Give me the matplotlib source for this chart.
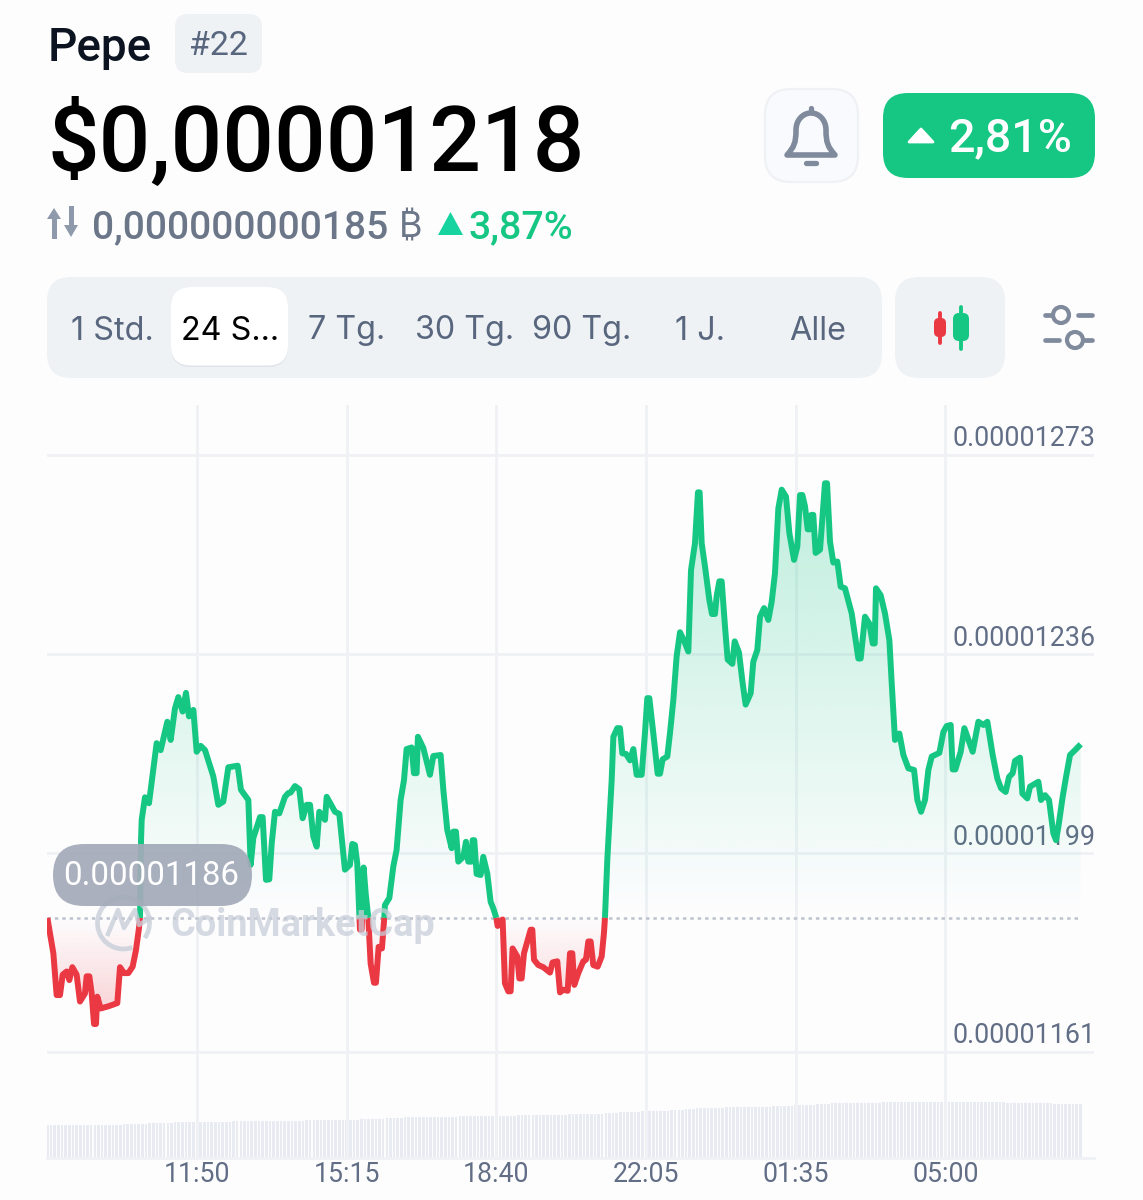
import numpy as np
import matplotlib
matplotlib.use('Agg')
import matplotlib.pyplot as plt
from matplotlib.patches import FancyBboxPatch, Polygon, PathPatch, Circle, Arc
from matplotlib.path import Path
from matplotlib.transforms import ScaledTranslation

# minutes since the start of the 24h window (08:25)
minutes = [0, 8.2, 12.7, 17.3, 21, 26.4, 30.1, 34.2, 40.1, 44.7, 51.5, 53.8, 57.5, 60.7, 63.9, 66.6, 68.4, 73, 83.5, 95.8,
           99.5, 105, 110.9, 116.8, 121.4, 125.5, 126.9, 128.3, 129.2, 133.7, 139.2, 149.7, 155.2, 164.3, 168.9, 174.8, 179.4, 185.3, 189.9, 194,
           200, 204.5, 210, 216, 227.3, 234.2, 241, 247.9, 260.7, 265.2, 275.3, 278.5, 282.1, 291.3, 294.9, 299.5, 304, 307.3, 311.8, 317.7,
           325.5, 330.1, 333.3, 339.2, 345.1, 349.7, 355.2, 359.8, 364.3, 368.9, 372.5, 380.3, 382.6, 394, 399.9, 407.6, 414.5, 417.7, 421.3, 424.5,
           427.5, 428.2, 430.5, 431, 433.2, 436, 439.6, 442.8, 447.4, 450.1, 453.8, 458.3, 461.5, 462.4, 468.4, 473.9, 478.4, 483.9, 488.5, 492.1,
           499, 502.2, 505.8, 507.6, 515, 524.1, 528.7, 538.7, 542.4, 547.8, 553.8, 556.1, 559.7, 562.9, 569.8, 573.4, 576.6, 581.2, 582.5, 584.8,
           588, 593.5, 597.1, 602.6, 607.2, 610.8, 615, 616.8, 623.6, 626.8, 631.4, 634.6, 637.3, 643.7, 646.5, 649.7, 652.9, 662, 664.3, 666.6,
           672.5, 679.3, 688.5, 692.1, 698.5, 702.2, 706.7, 712.7, 715.9, 719.1, 721.8, 727.3, 734.1, 737.8, 741, 744.2, 747.8, 753.8, 759.3, 762.4,
           763.8, 767, 773, 775.3, 780.7, 784.4, 787.6, 792.6, 798.1, 802.7, 807.2, 814.1, 818.6, 821.8, 824.6, 830, 836, 839.2, 842.8, 849.2,
           852.9, 857.5, 862, 866.6, 872.5, 878, 881.7, 887.1, 891.2, 893.5, 896.3, 900.8, 906.8, 910.4, 914.5, 916.8, 920.5, 923.7, 928.2, 931.9,
           938.3, 941.5, 947.4, 952.4, 956.5, 963.4, 967, 972.5, 976.2, 981.7, 987.6, 992.2, 996.7, 1001.3, 1005.9, 1011.8, 1016.4, 1022.8, 1027.3, 1031,
           1034.2, 1037.8, 1041.5, 1044.7, 1046.5, 1049.2, 1052.4, 1058.4, 1065.2, 1068, 1072.1, 1076.6, 1082.1, 1086.7, 1092.6, 1101.8, 1110.9, 1114.1, 1120, 1126,
           1130.6, 1133.3, 1135.1, 1141.5, 1147.4, 1153.4, 1156.6, 1161.1, 1167.1, 1172.6, 1179.4, 1187.2, 1191.7, 1196.8, 1202.2, 1206.8, 1211.4, 1221.9, 1227.4, 1231.9,
           1237.4, 1240.1, 1243.8, 1251.1, 1256.1, 1267.5, 1275.3, 1282.2, 1287.6, 1294.9, 1301.3, 1306.3, 1312.7, 1317.3, 1322.3, 1325.5, 1332.4, 1335.6, 1342.4, 1346.1,
           1357.5, 1361.1, 1366.6, 1372.1, 1378, 1381.7, 1384.9, 1390.8, 1395.4, 1400.9, 1407.7, 1415.5]

# price in 1e-8 USD
prices = [1186.8, 1180.2, 1172.4, 1172.4, 1176.2, 1176.8, 1175.2, 1177.6, 1176.2, 1171.2, 1172.7, 1175.9, 1175.9, 1172.7, 1167.0, 1167.0, 1172.1, 1169.9, 1170.3, 1170.9,
          1177.6, 1176.5, 1176.5, 1177.7, 1180.8, 1184.9, 1186.8, 1201.3, 1205.1, 1209.3, 1208.2, 1219.4, 1218.1, 1223.4, 1220, 1225.9, 1228, 1225.3, 1228.8, 1224.4,
          1225.6, 1217.8, 1218.9, 1218.1, 1213.2, 1207.9, 1208.5, 1214.9, 1215.2, 1210.7, 1208.8, 1196.7, 1201.7, 1205.6, 1205.6, 1193.9, 1194, 1200.7, 1206.6, 1206.3,
          1209.4, 1210.1, 1210.2, 1211.4, 1210.8, 1205.4, 1207.9, 1207.9, 1202, 1200.1, 1206.6, 1205.1, 1209.4, 1206.6, 1206.2, 1195.8, 1196.7, 1200.6, 1200.4, 1197,
          1186.8, 1184.6, 1184.6, 1186.8, 1196.2, 1191.4, 1186.8, 1178.3, 1174.7, 1174.7, 1181.4, 1181.1, 1186.8, 1189.2, 1190.5, 1196.4, 1199.5, 1208.8, 1212.5, 1218.3,
          1218.6, 1213.8, 1213.8, 1220.6, 1218.5, 1213.5, 1217, 1217.2, 1210.7, 1203.2, 1199.8, 1202.9, 1202.9, 1197.3, 1198.2, 1201, 1197.3, 1197.3, 1201.3, 1201.3,
          1195, 1194.8, 1198.2, 1195.1, 1189.8, 1188.6, 1186.8, 1185.3, 1186.5, 1174.6, 1173.1, 1173.1, 1181.1, 1179.6, 1175.5, 1175.5, 1180.2, 1184.6, 1184.6, 1179,
          1178, 1177.6, 1176.6, 1178.5, 1178.7, 1172.9, 1173.4, 1173.2, 1180.2, 1180.2, 1174.3, 1176.5, 1178.7, 1179, 1182.4, 1182.4, 1178, 1177.7, 1179.6, 1183.9,
          1186.8, 1197.6, 1212.5, 1220.6, 1222.2, 1222.2, 1217.5, 1217.4, 1216.2, 1218.3, 1213.5, 1213.5, 1221.3, 1227.8, 1227.8, 1221.3, 1213.7, 1213.7, 1216.4, 1216.9,
          1221.3, 1227.5, 1235.6, 1240.1, 1238.4, 1236.5, 1251.7, 1256.7, 1266.2, 1266.2, 1256.7, 1252.4, 1246.1, 1243.5, 1243.5, 1246.8, 1249.6, 1249.6, 1241.2, 1235,
          1234.2, 1238.4, 1236.3, 1230.6, 1226.6, 1228.7, 1234.6, 1236.8, 1243, 1244.6, 1242.4, 1245.8, 1251.1, 1263.2, 1266.7, 1265.4, 1258.6, 1253.6, 1256.1, 1265.7,
          1265.7, 1263.6, 1259.3, 1259.3, 1262, 1262, 1254.9, 1255.5, 1267.9, 1267.9, 1257, 1253.1, 1253.3, 1248.6, 1248.3, 1243.6, 1235.2, 1235.2, 1243, 1241.7,
          1238, 1238, 1248.3, 1247, 1243.6, 1238.6, 1230.6, 1220, 1221.2, 1217.2, 1214.7, 1214.4, 1208.8, 1206.6, 1208.8, 1214.4, 1216.9, 1217.6, 1221.5, 1222.6,
          1222.8, 1214.5, 1214.5, 1217.8, 1222.2, 1217.8, 1223.4, 1222.8, 1223.4, 1217.2, 1212.8, 1211, 1210.3, 1213.1, 1213.8, 1216.1, 1216.7, 1210, 1209.1, 1211.3,
          1212.2, 1208.8, 1209.7, 1208.8, 1202.6, 1201.3, 1203.8, 1209.4, 1213.1, 1217.2, 1218.1, 1219.2]

base_price = 1186.8
base_label = '0.00001186'

# one bar per 5 min, relative volume
volume = ([33] * 21 + [34] * 7 + [35] * 7 + [36] * 16 + [37] * 20 + [38] * 15 + [39] * 7 + [40] * 5 + [41] * 15
          + [42] * 16 + [43] * 14 + [44] * 10 + [45] * 4 + [46] * 6 + [47] * 8 + [48] * 4 + [49] * 3 + [50] * 8
          + [51] * 13 + [52] * 6 + [53] * 6 + [54] * 4 + [55] * 14 + [56] * 34 + [55] * 13 + [54] * 8)

x_ticks = [205, 410, 615, 820, 1025, 1230]
x_labels = ['11:50', '15:15', '18:40', '22:05', '01:35', '05:00']
y_ticks = [1273.2, 1236.0, 1198.9, 1161.8]
y_labels = ['0.00001273', '0.00001236', '0.00001199', '0.00001161']

tabs = ['1 Std.', '24 S...', '7 Tg.', '30 Tg.', '90 Tg.', '1 J.', 'Alle']
tab_x = [112, 230, 347, 465, 582, 700, 818]

BG = '#fdfdfe'
GREEN = '#16c784'
RED = '#ea3943'
GRID = '#eff1f5'
PANEL = '#eff2f5'
SLATE = '#58667e'
ICON = '#808a9d'
W, H = 1143, 1200

plt.rcParams['font.family'] = ['Roboto', 'Inter', 'Noto Sans', 'Open Sans', 'Liberation Sans', 'DejaVu Sans']

fig = plt.figure(figsize=(W / 100, H / 100), dpi=100, facecolor=BG)


def chart_axes(zorder):
    a = fig.add_axes([47 / W, (H - 1158) / H, (1094 - 47) / W, (1158 - 405) / H], zorder=zorder)
    a.set_xlim(-0.5, 1433.7)
    a.patch.set_visible(False)
    return a


# volume strip
ax_vol = chart_axes(1)
ax_vol.set_ylim(0, 753)
ax_vol.axis('off')
ax_vol.bar(np.arange(len(volume)) * 5, volume, width=3.6, color='#e8ebf1', linewidth=0)

ax = chart_axes(2)
ax.set_ylim(1142.0, 1282.5)
ax.set_axisbelow(True)
for side in ['top', 'left', 'right']:
    ax.spines[side].set_visible(False)
ax.spines['bottom'].set_color(GRID)
ax.spines['bottom'].set_linewidth(2)
ax.grid(True, color=GRID, linewidth=2)
ax.set_xticks(x_ticks)
ax.set_xticklabels(x_labels, fontsize=19.2, color='#616e85')
ax.tick_params(axis='x', length=0, pad=2.3)
ax.yaxis.tick_right()
ax.set_yticks(y_ticks)
ax.set_yticklabels(y_labels, fontsize=19.4, color='#616e85', ha='right', va='bottom')
ax.tick_params(axis='y', length=0, pad=0)
for lab in ax.get_yticklabels():
    lab.set_transform(lab.get_transform() + ScaledTranslation(1.5 / 100, 2.5 / 100, fig.dpi_scale_trans))

t = np.array(minutes)
p = np.array(prices)


def gradient_fill(where, c, y_far, a_far):
    poly = ax.fill_between(t, p, base_price, where=where, color='none', linewidth=0)
    clip = Path.make_compound_path(*poly.get_paths())
    rgba = np.zeros((256, 1, 4))
    rgba[..., :3] = matplotlib.colors.to_rgb(c)
    rgba[..., 3] = np.linspace(0, a_far, 256)[:, None]
    im = ax.imshow(rgba, extent=[t[0], t[-1], base_price, y_far], origin='lower', aspect='auto',
                   interpolation='bilinear', zorder=1.5)
    im.set_clip_path(clip, ax.transData)


gradient_fill(p >= base_price, GREEN, 1268, 0.27)
gradient_fill(p <= base_price, RED, 1167, 0.24)
ax.set_xlim(-0.5, 1433.7)
ax.set_ylim(1142.0, 1282.5)

ax.plot([t[0], t[-1]], [base_price, base_price], color='#c0c5d0', linewidth=1.9, dashes=(1.3, 1.5), zorder=1.8)
line_kw = dict(linewidth=4.3, solid_joinstyle='round', solid_capstyle='butt', zorder=3)
ax.plot(t, np.ma.masked_where(p < base_price, p), color=GREEN, **line_kw)
ax.plot(t, np.ma.masked_where(p > base_price, p), color=RED, **line_kw)

# everything else sits in plain pixel coords
ui = fig.add_axes([0, 0, 1, 1], zorder=5)
ui.set_xlim(0, W)
ui.set_ylim(H, 0)
ui.axis('off')


def box(x0, y0, x1, y1, r, fc, ec='none', lw=0, alpha=None, z=2):
    ui.add_patch(FancyBboxPatch((x0, y0), x1 - x0, y1 - y0, boxstyle=f'round,pad=0,rounding_size={r}',
                                fc=fc, ec=ec, lw=lw, alpha=alpha, zorder=z))


def stroke(xs, ys, c=ICON, lw=3.4):
    ui.plot(xs, ys, color=c, linewidth=lw, solid_capstyle='round', zorder=3)


# header
ui.text(48, 48, 'Pepe', fontsize=33, fontweight='medium', color='#0d1421', va='center')
box(175, 14, 262, 73, 13, PANEL)
ui.text(218.5, 46, '#22', fontsize=24.5, color=SLATE, ha='center', va='center')
ui.text(47.5, 144, '$0,00001218', fontsize=65.5, fontweight='medium', color='black', va='center')

# bitcoin price row
ui.plot([54, 54], [216, 236], color='#8e99ab', linewidth=3.6, zorder=3)
ui.add_patch(Polygon([[47, 219], [61, 219], [54, 208]], fc='#8e99ab', ec='none'))
ui.plot([71, 71], [208, 228], color='#8e99ab', linewidth=3.6, zorder=3)
ui.add_patch(Polygon([[64, 225], [78, 225], [71, 237]], fc='#8e99ab', ec='none'))
ui.text(92, 228, '0,000000000185', fontsize=28.1, fontweight='medium', color='#6b7789', va='center')
ui.text(399, 228, '\u20bf', fontsize=26, color='#6b7789', va='center', family=['Inter', 'Noto Sans', 'Open Sans', 'Liberation Sans', 'Lato'])
ui.add_patch(Polygon([[438, 235], [463, 235], [450.5, 212]], fc='#16d3a0', ec='none'))
ui.text(469, 228, '3,87%', fontsize=28.4, fontweight='medium', color=GREEN, va='center')

# bell button
box(765, 89, 858, 182, 26, '#f8fafd', ec='#eff1f5', lw=1.6)
bell = Path([(787, 155), (794, 147), (796, 143), (796, 130), (796, 120), (803, 113), (811, 113),
             (819, 113), (826, 120), (826, 130), (826, 143), (828, 147), (835, 155), (787, 155)],
            [Path.MOVETO] + [Path.CURVE4] * 12 + [Path.CLOSEPOLY])
ui.add_patch(PathPatch(bell, fc='none', ec=ICON, lw=4, joinstyle='round', zorder=3))
stroke([811, 811], [108, 112], lw=3.8)
stroke([806, 816], [162.5, 162.5], lw=3.8)

# change badge
box(883, 93, 1095, 178, 25, GREEN)
ui.add_patch(Polygon([[909, 142], [933, 142], [921, 129]], fc='white', ec='white', lw=2, joinstyle='round', zorder=3))
ui.text(1010.5, 138, '2,81%', fontsize=33.5, fontweight='medium', color='white', ha='center', va='center', zorder=3)

# range tabs
box(47, 277, 882, 378, 24, PANEL)
box(171, 287, 288, 367, 20, '#dfe3ea', z=2.1)
box(171, 287, 288, 365.5, 20, 'white', z=2.2)
for label, x in zip(tabs, tab_x):
    ui.text(x, 331, label, fontsize=23.3, color='black' if label.startswith('24') else SLATE,
            ha='center', va='center', family=['Inter', 'DejaVu Sans'], zorder=3)

# candle button
box(895, 277, 1005, 378, 24, PANEL)
stroke([940, 940], [313, 343], c=RED, lw=2.8)
box(934, 318, 946, 337, 5, RED, z=3)
stroke([961, 961], [307, 349], c=GREEN, lw=2.8)
box(953, 313, 969, 341, 6, GREEN, z=3)

# settings sliders
stroke([1045, 1052], [315, 315])
ui.add_patch(Circle((1061, 315), 8, fc='none', ec=ICON, lw=3, zorder=3))
stroke([1078, 1092], [315, 315])
stroke([1045, 1059], [340, 340])
ui.add_patch(Circle((1075, 340), 8, fc='none', ec=ICON, lw=3, zorder=3))
stroke([1085, 1092], [340, 340])

# watermark
ui.add_patch(Arc((123.5, 923), 52, 52, theta1=70, theta2=395, ec='#c8ced9', lw=3.4, alpha=0.8, zorder=4))
ui.plot([108, 118, 124, 135, 139, 150], [934, 910, 928, 910, 925, 918], color='#c8ced9', linewidth=3.2,
        alpha=0.8, solid_joinstyle='round', zorder=4)
ui.text(170, 926, 'CoinMarketCap', fontsize=27.3, fontweight='bold', color='#c8ced9', alpha=0.75, va='center', zorder=4)

# base price pill
box(53, 844, 252, 906, 31, '#a3aab8', alpha=0.92, z=6)
ui.text(151.5, 876, base_label, fontsize=23.8, color='white', ha='center', va='center', zorder=7)

fig.savefig('out.png', dpi=100, facecolor=BG)
